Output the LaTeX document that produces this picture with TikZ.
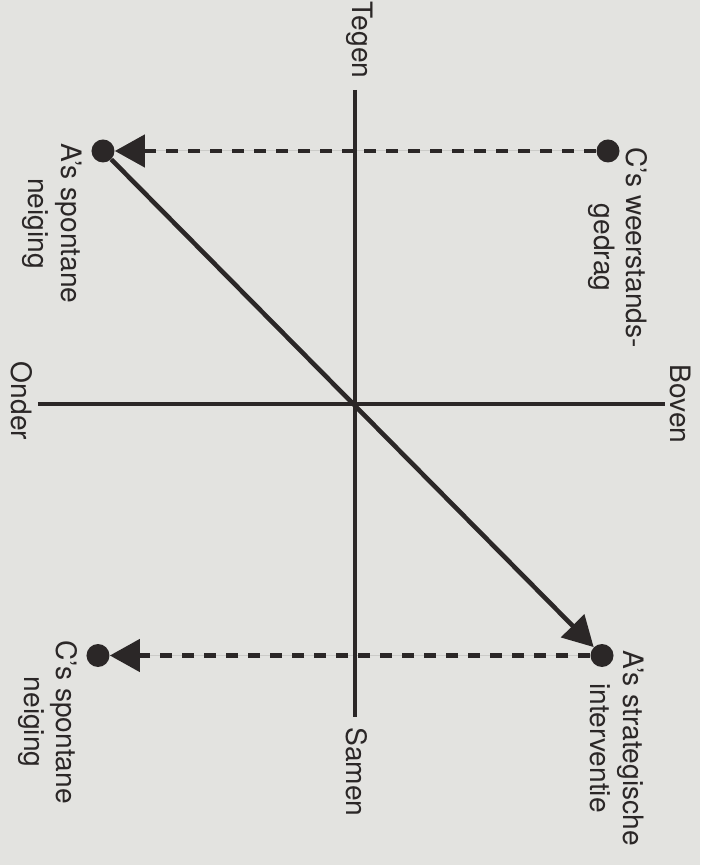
\documentclass[tikz,border=0pt]{standalone}
\usepackage{fontspec}
\setmainfont{TeX Gyre Heros}
\usetikzlibrary{positioning,arrows.meta}
\definecolor{kwinkt}{HTML}{2B2727}
\definecolor{kwpapier}{HTML}{E3E3E0}
\tikzset{
  kwas/.style={draw=kwinkt, line width=2.8pt},
  kwstip/.style={circle, fill=kwinkt, inner sep=0pt, minimum size=4.6mm},
  kwpijl/.style={-{Triangle[length=6mm, width=6.4mm]}, draw=kwinkt, fill=kwinkt, line width=2.6pt},
  kwstreep/.style={kwpijl, dash pattern=on 2.4mm off 2mm},
  kwtekst/.style={rotate=-90, align=center, inner sep=0pt, text=kwinkt,
                  font=\fontsize{16}{18.5}\selectfont},
}

\begin{document}
\begin{tikzpicture}[x=1cm, y=1cm]
    % papier
    \useasboundingbox (-7.10,8.08) rectangle (6.90,-9.22);
    \fill[kwpapier] (-7.10,8.08) rectangle (6.90,-9.22);
    % assen met hun uiteinden
    \node[kwtekst] (tegen) at (0.10,7.28) {Tegen};
    \node[kwtekst] (samen) at (0.04,-7.36) {Samen};
    \node[kwtekst] (boven) at (6.52,0) {Boven};
    \node[kwtekst] (onder) at (-6.66,0.06) {Onder};
    \coordinate (as-boven) at (0,6.28);
    \coordinate (as-onder) at (0,-6.26);
    \coordinate (as-links) at (-6.34,0);
    \coordinate (as-rechts) at (6.20,0);
    \draw[kwas] (as-boven) -- (as-onder);
    \draw[kwas] (as-links) -- (as-rechts);
    % posities van A en C
    \node[kwstip] (a-spontaan) at (-5.04,5.06) {};
    \node[kwstip] (c-weerstand) at (5.06,5.06) {};
    \node[kwstip] (a-strategie) at (4.94,-5.03) {};
    \node[kwstip] (c-spontaan) at (-5.14,-5.03) {};
    % verbindingen
    \draw[kwstreep] (c-weerstand) -- (a-spontaan);
    \draw[kwstreep] (a-strategie) -- (c-spontaan);
    \draw[kwpijl] (a-spontaan) -- (a-strategie);
    % bijschriften
    \node[kwtekst, anchor=north west] (t-weerstand) at (5.86,5.14) {C’s weerstands-\\gedrag};
    \node[kwtekst, anchor=north west] (t-aspontaan) at (-5.46,5.22) {A’s spontane\\neiging};
    \node[kwtekst, anchor=north west] (t-strategie) at (5.78,-4.92) {A’s strategische\\interventie};
    \node[kwtekst, anchor=north west] (t-cspontaan) at (-5.54,-4.72) {C’s spontane\\neiging};
\end{tikzpicture}
\end{document}
